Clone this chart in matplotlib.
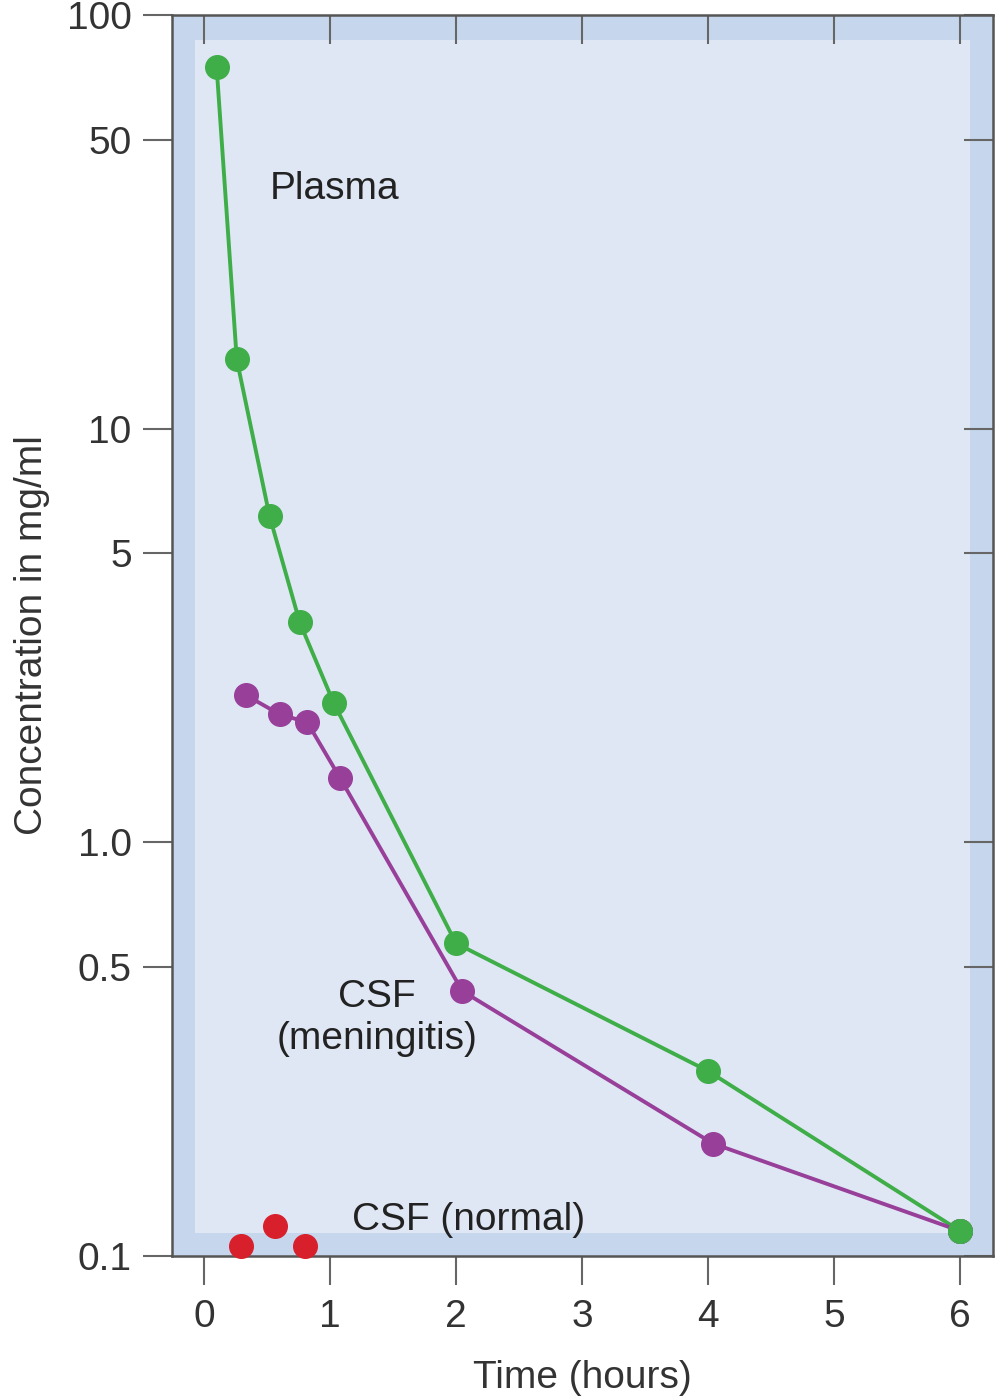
import matplotlib
matplotlib.use("Agg")
import matplotlib.pyplot as plt
from matplotlib.patches import Rectangle

# Data
plasma_t = [0.1, 0.26, 0.52, 0.76, 1.03, 2.0, 4.0, 6.0]
plasma_c = [75.0, 14.7, 6.15, 3.4, 2.17, 0.57, 0.28, 0.115]
men_t = [0.33, 0.6, 0.82, 1.08, 2.05, 4.04, 6.0]
men_c = [2.27, 2.04, 1.95, 1.43, 0.437, 0.187, 0.115]
norm_t = [0.29, 0.56, 0.8]
norm_c = [0.106, 0.118, 0.106]

yticks = [0.1, 0.5, 1.0, 5, 10, 50, 100]
ytick_labels = ["0.1", "0.5", "1.0", "5", "10", "50", "100"]
xticks = [0, 1, 2, 3, 4, 5, 6]

plt.rcParams['font.family'] = ['Liberation Sans', 'DejaVu Sans']
FS = 28
green = '#3fae49'
purple = '#983f9a'
red = '#d8202c'
band = '#c6d6ec'
inner = '#dfe7f4'
gray = '#666666'

fig = plt.figure(figsize=(10.01, 13.98), dpi=100)
ax = fig.add_axes([172/1001, 142/1398, 821/1001, 1241/1398])
ax.set_facecolor(band)
ax.add_patch(Rectangle((0.028, 0.0185), 0.944, 0.9615, transform=ax.transAxes,
                       facecolor=inner, edgecolor='none', zorder=0))

ax.set_yscale('log')
ax.set_ylim(0.1, 100)
ax.set_xlim(-0.254, 6.262)

LW, MS = 2.8, 17
ax.plot(plasma_t, plasma_c, color=green, lw=LW, marker='o', ms=MS, zorder=3, clip_on=False)
ax.plot(men_t, men_c, color=purple, lw=LW, marker='o', ms=MS, zorder=3, clip_on=False)
ax.plot(norm_t, norm_c, color=red, lw=0, marker='o', ms=MS, zorder=3, clip_on=False)
# green end point on top of purple
ax.plot(plasma_t[-1:], plasma_c[-1:], color=green, lw=0, marker='o', ms=MS, zorder=4, clip_on=False)

ax.text(0.524, 37.9, "Plasma", fontsize=FS, color='#222222', va='center', ha='left')
ax.text(1.373, 0.376, "CSF\n(meningitis)", fontsize=FS, color='#222222', va='center',
        ha='center', linespacing=1.2)
ax.text(1.175, 0.1225, "CSF (normal)", fontsize=FS, color='#222222', va='center', ha='left')

ax.set_yticks(yticks)
ax.set_yticklabels(ytick_labels)
ax.minorticks_off()
ax.set_xticks(xticks)
ax.set_xticklabels([str(v) for v in xticks])
ax.tick_params(axis='both', direction='out', length=21, width=1.5, color=gray,
               labelsize=FS, labelcolor='#333333')
ax.tick_params(axis='y', pad=8)
ax.tick_params(axis='x', pad=10)

for s in ax.spines.values():
    s.set_color('#555555')
    s.set_linewidth(1.8)

secx = ax.secondary_xaxis('top')
secx.set_xticks(xticks)
secx.tick_params(direction='in', length=21, width=1.5, color=gray, labeltop=False)
secx.spines['top'].set_visible(False)
secy = ax.secondary_yaxis('right')
secy.set_yticks(yticks)
secy.minorticks_off()
secy.tick_params(direction='in', length=21, width=1.5, color=gray, labelright=False)
secy.yaxis.set_minor_locator(matplotlib.ticker.NullLocator())
secy.spines['right'].set_visible(False)

fig.text(582/1001, 1 - 1378/1398, "Time (hours)", fontsize=FS, color='#333333',
         ha='center', va='center')
fig.text(32/1001, 1 - 635/1398, "Concentration in mg/ml", fontsize=FS, color='#333333',
         ha='center', va='center', rotation=90)

fig.savefig("out.png", dpi=100)
